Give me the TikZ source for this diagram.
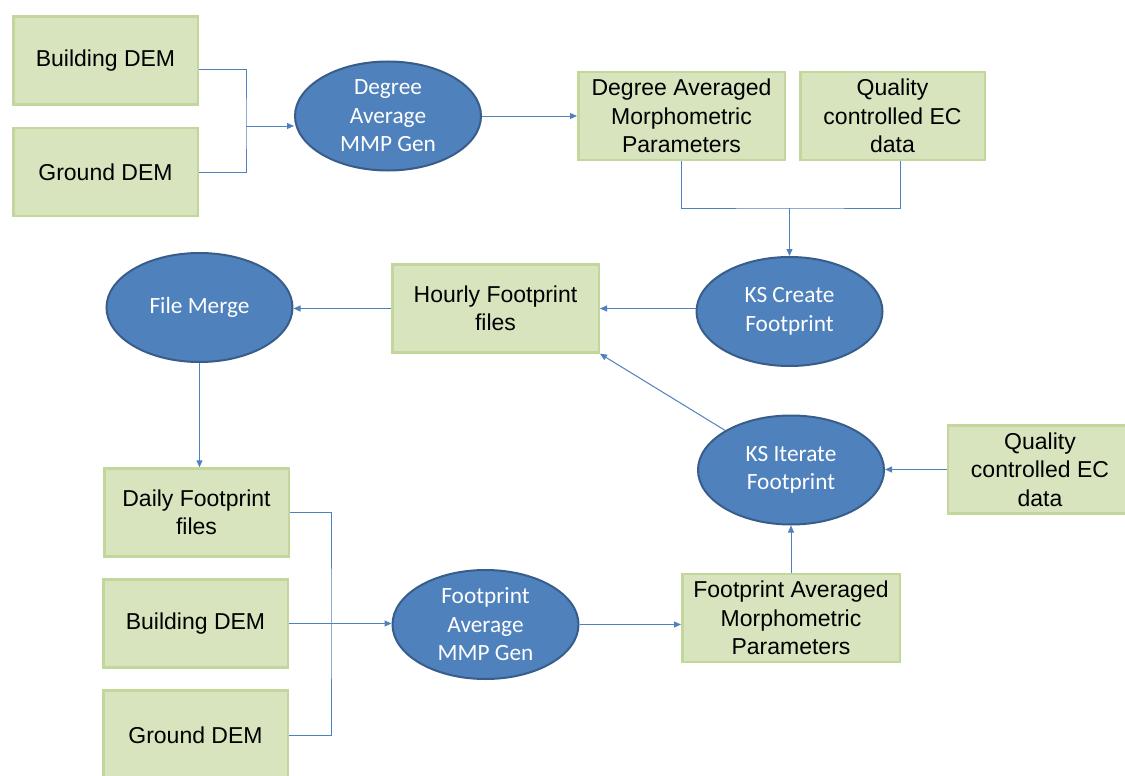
\documentclass[tikz,border=0pt]{standalone}
\usepackage{fontspec}
\usetikzlibrary{shapes.geometric,arrows.meta,calc}
\newfontfamily\boxfont{Liberation Sans}
\newfontfamily\procfont{Carlito}
\definecolor{boxfill}{RGB}{215,228,189}
\definecolor{boxline}{RGB}{195,214,155}
\definecolor{procfill}{RGB}{79,129,189}
\definecolor{procline}{RGB}{56,93,138}
\definecolor{linkcol}{RGB}{79,129,189}
\tikzset{
  databox/.style={draw=boxline, fill=boxfill, line width=2.5pt, inner sep=2pt,
    align=center, text=black, minimum width=184.5pt, minimum height=88pt,
    font=\boxfont\fontsize{23pt}{28.5pt}\selectfont},
  widebox/.style={databox, minimum width=206.5pt},
  procnode/.style={ellipse, draw=procline, fill=procfill, line width=2pt,
    inner sep=0pt, minimum width=186pt, minimum height=109pt},
  proctext/.style={align=center, text=white, inner sep=0pt,
    font=\procfont\fontsize{23.3pt}{28.5pt}\selectfont},
  link/.style={draw=linkcol, line width=1pt},
  conn/.style={link, -{Triangle[length=7pt,width=6pt]}},
}
\begin{document}
\begin{tikzpicture}[x=1pt,y=-1pt]
\clip (0,0) rectangle (1125,776);
\fill[white] (0,0) rectangle (1125,776);

% input data
\node[databox] (bdem1) at (105.5,60.5) {Building DEM};
\node[databox] (gdem1) at (105.5,172) {Ground DEM};
\node[widebox] (dampar) at (681.5,116) {Degree Averaged\\Morphometric\\Parameters};
\node[databox] (qc1) at (892.5,116) {Quality\\controlled EC\\data};
\node[widebox] (hourly) at (495.5,308.5) {Hourly Footprint\\files};
\node[databox] (daily) at (196.5,512.5) {Daily Footprint\\files};
\node[databox] (bdem2) at (195.5,623.5) {Building DEM};
\node[databox, minimum height=89pt] (gdem2) at (195.5,735) {Ground DEM};
\node[databox, minimum width=217.5pt] (fampar) at (791,618) {Footprint Averaged\\Morphometric\\Parameters};
\node[databox] (qc2) at (1040,469.5) {Quality\\controlled EC\\data};

% processing steps
\node[procnode, label={[proctext]center:Degree\\Average\\MMP Gen}] (dmmp) at (388,116) {};
\node[procnode, label={[proctext]center:KS Create\\Footprint}] (ksc) at (789.5,311.5) {};
\node[procnode, label={[proctext]center:File Merge}] (fmerge) at (199.5,307.5) {};
\node[procnode, label={[proctext]center:Footprint\\Average\\MMP Gen}] (fmmp) at (485.5,624.5) {};
\node[procnode, label={[proctext]center:KS Iterate\\Footprint}] (ksi) at (791,470) {};

% junction points
\coordinate (jA) at (246,126);
\coordinate (jB) at (789.5,208);
\coordinate (jC) at (331,623.5);

% connectors
\draw[link] ([yshift=-9.5pt]bdem1.east) -| (jA) |- (gdem1.east);
\draw[conn] (jA) -- (jA -| dmmp.west);
\draw[conn] (dmmp.east) -- (dampar.west);
\draw[link] (dampar.south) |- (jB) -| ([xshift=7.5pt]qc1.south);
\draw[conn] (jB) -- (ksc.north);
\draw[conn] (hourly.east -| ksc.west) -- (hourly.east);
\draw[conn] (hourly.west) -- (hourly.west -| fmerge.east);
\draw[conn] (fmerge.south) -- (fmerge.south |- daily.north);
\draw[link] (daily.east) -| (jC) |- (gdem2.east);
\draw[conn] (bdem2.east) -- (bdem2.east -| fmmp.west);
\draw[conn] (fmmp.east) -- (fmmp.east -| fampar.west);
\draw[conn] (fampar.north -| ksi.south) -- (ksi.south);
\draw[conn] (qc2.west) -- (qc2.west -| ksi.east);
\draw[conn] (ksi.149) -- (hourly.south east);
\end{tikzpicture}
\end{document}
